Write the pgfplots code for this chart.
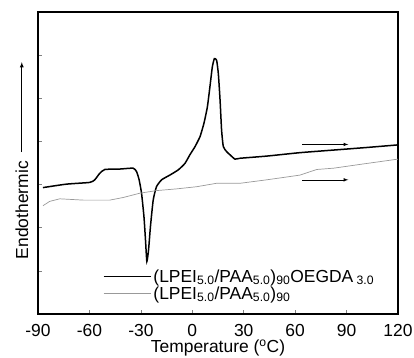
\documentclass[border=0pt]{standalone}
\usepackage{pgfplots}
\pgfplotsset{compat=1.18}
\usepackage{fontspec}
\setmainfont{Liberation Sans}
\newcommand{\bigf}{\fontsize{17.5}{20}\selectfont}
\begin{document}
\begin{tikzpicture}
\useasboundingbox (-38bp,-44bp) rectangle (376bp,314bp);
\begin{axis}[at={(0,0)}, anchor=south west, scale only axis,
  width=360bp, height=302bp,
  xmin=-90, xmax=120, ymin=0, ymax=7,
  xtick={-90,-60,...,120}, ytick={1,...,6}, yticklabels={},
  tick align=inside, xtick pos=bottom, ytick pos=left,
  axis line style={line width=1.2bp},
  major tick length=4bp, tick style={gray, line width=0.6bp},
  ticklabel style={font=\bigf},
  xticklabel style={yshift=-7bp},
  /pgf/number format/assume math mode=true,
  xlabel={Temperature (\textsuperscript{o}C)},
  xlabel style={font=\bigf, yshift=4bp},
  clip=false,
  legend style={at={(rel axis cs:0.18,0.155)}, anchor=north west, draw=none, fill=none,
    font=\bigf, inner sep=0pt, row sep=-1bp},
  legend cell align=left,
  legend image code/.code={\draw[#1] (0bp,0bp) -- (47bp,0bp);},
]
\addplot[black, line width=1.5bp, smooth, tension=0.3] coordinates {
(-87.1,2.93) (-73.4,3.01) (-59.8,3.05) (-56.9,3.11) (-54,3.26) (-51,3.35)
(-42.3,3.36) (-34.5,3.38) (-32.5,3.30) (-31,3.11) (-29.6,2.80) (-28.2,2.26)
(-27.3,1.72) (-26.5,1.22) (-25.5,1.49) (-24.4,2.03) (-22.8,2.64) (-20.9,2.95)
(-17.9,3.11) (-13.1,3.22) (-8.2,3.34) (-4.3,3.49) (-1.4,3.69) (1.6,3.88)
(4.5,4.11) (6.8,4.42) (8.8,4.80) (10.3,5.27) (11.7,5.73) (12.9,5.92)
(14.2,5.88) (15.2,5.57) (16.2,4.96) (17.1,4.26) (18.1,3.88) (20.1,3.76)
(22.0,3.69) (24.9,3.59) (27.9,3.61) (43.4,3.66) (62.9,3.74) (82.4,3.80)
(101.9,3.86) (120,3.92)
};
\addlegendentry{(LPEI\textsubscript{5.0}/PAA\textsubscript{5.0})\textsubscript{90}OEGDA\textsubscript{ 3.0}}
\addplot[gray!80, line width=0.7bp] coordinates {
(-87.1,2.51) (-83.2,2.61) (-77.3,2.67) (-63.7,2.64) (-48.1,2.64) (-40.3,2.70)
(-30.6,2.80) (-20.9,2.86) (-9.2,2.90) (2.5,2.95) (14.2,3.03) (27.9,3.03)
(43.4,3.11) (62.9,3.22) (68.8,3.30) (72.7,3.35) (82.4,3.38) (101.9,3.49)
(120,3.59)
};
\addlegendentry{(LPEI\textsubscript{5.0}/PAA\textsubscript{5.0})\textsubscript{90}}
\draw[-latex, line width=0.6bp] (axis cs:64,3.93) -- (axis cs:91,3.93);
\draw[-latex, line width=0.6bp] (axis cs:64,3.11) -- (axis cs:91,3.11);
\node[rotate=90, font=\bigf] at (rel axis cs:-0.045,0.344) {Endothermic};
\draw[-latex, line width=0.8bp] (rel axis cs:-0.045,0.536) -- (rel axis cs:-0.045,0.834);
\end{axis}
\end{tikzpicture}
\end{document}
